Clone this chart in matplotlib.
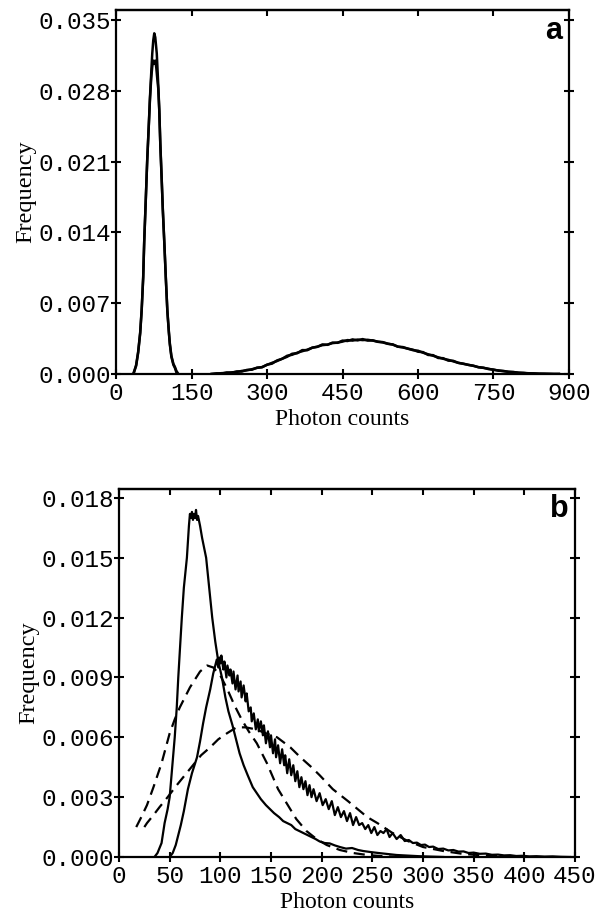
#!/usr/bin/env python3
"""
Photon count histograms (panels a and b) with fitted curves.
"""
import matplotlib
matplotlib.use('Agg')
import matplotlib.pyplot as plt

# panel a: narrow peak, two overlapping histograms
a_narrow1_x = [34, 40, 44, 48, 51, 54, 56, 59, 62, 65, 67.5, 70, 72, 74, 76, 78, 81, 84, 86,
	88, 90.6, 93, 96, 99, 102, 105, 107, 110, 114, 117, 120, 124]
a_narrow1_y = [0, 0.0008, 0.0021, 0.0040, 0.0063, 0.0095, 0.0130, 0.0170, 0.0212, 0.0245,
	0.0274, 0.0298, 0.0317, 0.0330, 0.0337, 0.0333, 0.0317, 0.0285, 0.0261, 0.0228, 0.0195,
	0.0163, 0.0130, 0.0095, 0.0063, 0.0042, 0.0030, 0.0018, 0.0010, 0.0007, 0.0003, 0]
a_narrow2_x = [35, 40, 44, 48, 51, 54, 56, 59, 62, 65, 67.5, 70, 72, 74, 76, 78, 80, 82, 84,
	86, 88, 90.6, 93, 96, 99, 102, 105, 107, 110, 114, 117, 121]
a_narrow2_y = [0, 0.0009, 0.0022, 0.0041, 0.0064, 0.0096, 0.0131, 0.0171, 0.0211, 0.0244,
	0.0272, 0.0293, 0.0304, 0.0310, 0.0307, 0.0310, 0.0303, 0.0292, 0.0282, 0.0260, 0.0227,
	0.0194, 0.0162, 0.0129, 0.0094, 0.0062, 0.0041, 0.0029, 0.0017, 0.0009, 0.0006, 0]

# panel a: broad peak, two overlapping histograms
a_broad_x = [190, 200, 210, 220, 230, 240, 250, 260, 270, 280, 290, 300, 310, 320, 330, 340,
	350, 360, 370, 380, 390, 400, 410, 420, 430, 440, 450, 460, 470, 480, 490, 500, 510, 520,
	530, 540, 550, 560, 570, 580, 590, 600, 610, 620, 630, 640, 650, 660, 670, 680, 690, 700,
	710, 720, 730, 740, 750, 760, 770, 780, 790, 800, 810, 820, 830, 840, 850, 860, 870, 880]
a_broad1_y = [0, 0.00003, 0.00008, 0.0001, 0.00016, 0.0002, 0.0003, 0.00036, 0.00047, 0.0006,
	0.00068, 0.0009, 0.0011, 0.00128, 0.0015, 0.0018, 0.0019, 0.0021, 0.00225, 0.0024, 0.0026,
	0.0027, 0.00285, 0.0029, 0.00305, 0.0031, 0.0032, 0.00335, 0.0033, 0.0034, 0.00335,
	0.00338, 0.0033, 0.0032, 0.00315, 0.0030, 0.0029, 0.0027, 0.00262, 0.0025, 0.00235, 0.0023,
	0.0021, 0.00195, 0.0018, 0.00165, 0.0015, 0.0014, 0.00125, 0.0011, 0.0010, 0.0009, 0.0008,
	0.00068, 0.0006, 0.00052, 0.0004, 0.00035, 0.00027, 0.00022, 0.00018, 0.00013, 0.0001,
	0.00007, 0.00005, 0.00003, 0.00002, 0.00001, 0, 0]
a_broad2_y = [0, 0.00006, 0.00004, 0.00015, 0.00012, 0.00025, 0.00024, 0.0004, 0.00042,
	0.00062, 0.00066, 0.00092, 0.00102, 0.00134, 0.0015, 0.0017, 0.002, 0.00205, 0.00236,
	0.00235, 0.0026, 0.00268, 0.00292, 0.00288, 0.0031, 0.00308, 0.0033, 0.00326, 0.00342,
	0.00332, 0.00345, 0.0033, 0.00333, 0.00318, 0.00312, 0.00298, 0.00292, 0.0027, 0.00266,
	0.0025, 0.0024, 0.0022, 0.00216, 0.00188, 0.00186, 0.00158, 0.00156, 0.00132, 0.0013,
	0.0011, 0.00102, 0.0009, 0.00082, 0.00066, 0.00062, 0.00048, 0.00044, 0.00032, 0.0003,
	0.0002, 0.00019, 0.00011, 0.0001, 0.00005, 0.00005, 0.00002, 0.00002, 0.00001, 0, 0]

# panel b: sharp histogram
b_hist1_x = [35, 38, 42, 45, 48, 50, 52, 55, 57, 58.5, 60, 62, 64, 67, 68, 69, 70, 71, 72, 73,
	74, 75, 76, 77, 78, 80, 82, 84, 86, 88, 90, 92, 95, 98, 101.6, 105, 108, 112, 116, 119,
	123, 127, 132, 136, 140, 145, 149, 153, 158, 162, 166, 170, 174, 178, 182, 186, 190, 194,
	198, 203, 208, 213, 218, 224, 230, 236, 241, 248, 256, 265, 274, 285, 296, 307, 320]
b_hist1_y = [0, 0.0002, 0.0007, 0.0017, 0.0024, 0.0030, 0.0042, 0.0060, 0.0075, 0.0090,
	0.0103, 0.0120, 0.0135, 0.0150, 0.0158, 0.0166, 0.0172, 0.0170, 0.0173, 0.0169, 0.0172,
	0.0170, 0.0174, 0.0169, 0.0171, 0.0166, 0.0160, 0.0155, 0.0150, 0.0140, 0.0130, 0.0120,
	0.0108, 0.0098, 0.0090, 0.0080, 0.0073, 0.0066, 0.0058, 0.0052, 0.0046, 0.0041, 0.0035,
	0.0032, 0.0029, 0.0026, 0.0024, 0.0022, 0.0020, 0.0018, 0.0017, 0.0016, 0.0014, 0.0013,
	0.0012, 0.0011, 0.0010, 0.0009, 0.00078, 0.0007, 0.00068, 0.00058, 0.0005, 0.00042,
	0.00045, 0.00035, 0.0003, 0.00025, 0.0002, 0.00015, 0.0001, 0.00007, 0.00004, 0.00002, 0]

# panel b: noisy histogram
b_hist2_x = [50, 53, 56, 58, 61, 64, 68, 72, 77, 80, 83, 86, 90, 93, 96.5, 98, 99, 100, 101,
	103, 104, 106, 107, 109, 110, 112, 113, 115, 117, 118, 120, 121, 123, 125, 126, 128, 130,
	131, 133, 135, 137, 138, 140, 142, 143, 145, 147, 149, 150, 152, 154, 155, 157, 159, 161,
	163, 164, 166, 168, 170, 172, 174, 176, 178, 180, 182, 184, 186, 188, 190, 192, 195, 198,
	201, 204, 207, 210, 213, 216, 219, 222, 225, 228, 231, 234, 237, 240, 243, 246, 249, 252,
	255, 258, 261, 264, 267, 270, 274, 278, 282, 286, 290, 294, 298, 302, 306, 310, 315, 320,
	325, 330, 335, 340, 345, 350, 356, 362, 368, 374, 380, 386, 392, 398, 405, 412, 420, 428,
	436, 445]
b_hist2_y = [0, 0.0002, 0.0006, 0.0010, 0.0016, 0.0023, 0.0034, 0.0042, 0.0050, 0.0058,
	0.0067, 0.0075, 0.0084, 0.0092, 0.0099, 0.0095, 0.0100, 0.0097, 0.0101, 0.0094, 0.0098,
	0.0090, 0.0096, 0.0091, 0.0094, 0.0087, 0.0093, 0.0084, 0.0091, 0.0083, 0.0088, 0.0080,
	0.0086, 0.0078, 0.0082, 0.0073, 0.0075, 0.0068, 0.0072, 0.0064, 0.0069, 0.0063, 0.0068,
	0.0061, 0.0066, 0.0057, 0.0063, 0.0055, 0.0061, 0.0052, 0.0059, 0.0050, 0.0056, 0.0047,
	0.0054, 0.0046, 0.0051, 0.0042, 0.0049, 0.0041, 0.0046, 0.0038, 0.0043, 0.0035, 0.0040,
	0.0034, 0.0038, 0.0031, 0.0036, 0.0030, 0.0034, 0.0028, 0.0032, 0.0026, 0.0029, 0.0024,
	0.0028, 0.0021, 0.0025, 0.0020, 0.0023, 0.0018, 0.0022, 0.0016, 0.0020, 0.0016, 0.0017,
	0.0014, 0.0016, 0.0012, 0.0015, 0.0011, 0.0013, 0.0012, 0.0014, 0.0010, 0.0012, 0.0009,
	0.0011, 0.0008, 0.00085, 0.0007, 0.00072, 0.0006, 0.00062, 0.0005, 0.00052, 0.0004,
	0.00042, 0.00033, 0.00035, 0.00027, 0.00028, 0.0002, 0.00022, 0.00016, 0.00017, 0.00011,
	0.00012, 0.00008, 0.00009, 0.00005, 0.00006, 0.00003, 0.00004, 0.00002, 0.00003, 0.00001, 0]

# panel b: fitted curves (dashed)
b_fit1_x = [17, 22, 27.6, 34, 42, 50, 55, 60, 65, 70, 75, 80, 87, 93, 100, 107, 114, 121, 128,
	136, 146, 157, 169, 175, 185, 195, 205, 218, 231, 245, 260, 280]
b_fit1_y = [0.0015, 0.0020, 0.0026, 0.0035, 0.0047, 0.0062, 0.0069, 0.0075, 0.0080, 0.0085,
	0.0089, 0.0093, 0.0096, 0.0095, 0.0091, 0.0084, 0.0076, 0.0069, 0.0063, 0.0057, 0.0047,
	0.0034, 0.0024, 0.0019, 0.0013, 0.0009, 0.0006, 0.00035, 0.0002, 0.0001, 0.00004, 0]
b_fit2_x = [25, 27.6, 34, 40, 48, 57, 65, 73, 81, 90, 98, 106.5, 116, 125, 135, 145, 156, 169,
	179, 190, 198, 211, 226, 245, 255, 270, 285, 300, 320, 340, 360, 380, 400]
b_fit2_y = [0.0015, 0.0017, 0.0021, 0.0025, 0.0030, 0.0036, 0.0041, 0.0046, 0.0051, 0.0055,
	0.0059, 0.0062, 0.0065, 0.0065, 0.0064, 0.0062, 0.0060, 0.0055, 0.0050, 0.0045, 0.0041,
	0.0034, 0.0028, 0.0020, 0.0017, 0.0012, 0.0008, 0.0005, 0.0003, 0.00015, 0.00008,
	0.00003, 0]

a_xticks = [0, 150, 300, 450, 600, 750, 900]
a_yticks = [0.000, 0.007, 0.014, 0.021, 0.028, 0.035]
b_xticks = [0, 50, 100, 150, 200, 250, 300, 350, 400, 450]
b_yticks = [0.000, 0.003, 0.006, 0.009, 0.012, 0.015, 0.018]

MONO = 'Liberation Mono'
SERIF = 'Liberation Serif'
DASH = (0, (5, 3))


def style_axes(ax, xticks, yticks, xlim, ylim, letter):
	ax.set_xlim(*xlim)
	ax.set_ylim(*ylim)
	ax.set_xticks(xticks)
	ax.set_yticks(yticks)
	ax.set_xticklabels([str(t) for t in xticks], family=MONO, fontsize=17.5)
	ax.set_yticklabels(['%.3f' % t for t in yticks], family=MONO, fontsize=17.5)
	ax.tick_params(axis='both', direction='inout', length=7, width=1.5, pad=2, right=True)
	ax.tick_params(axis='y', pad=0)
	for s in ax.spines.values():
		s.set_linewidth(1.6)
	top = ax.secondary_xaxis('top')
	top.set_xticks(xticks)
	top.set_xticklabels([])
	top.tick_params(direction='in', length=4, width=1.5)
	top.spines['top'].set_linewidth(1.6)
	ax.set_xlabel('Photon counts', family=SERIF, fontsize=17, labelpad=3)
	ax.set_ylabel('Frequency', family=SERIF, fontsize=17.5, labelpad=2)
	ax.text(0.985, 0.985, letter, transform=ax.transAxes, ha='right', va='top',
		family='Liberation Sans', fontweight='bold', fontsize=22)


def main():
	fig = plt.figure(figsize=(5.98, 9.15), dpi=100)
	ax_a = fig.add_axes([0.194, 0.5913, 0.7575, 0.3977])
	ax_b = fig.add_axes([0.199, 0.0634, 0.7625, 0.4022])

	kw = dict(color='black', lw=1.8)
	ax_a.plot(a_narrow1_x, a_narrow1_y, **kw)
	ax_a.plot(a_narrow2_x, a_narrow2_y, **kw)
	ax_a.plot(a_broad_x, a_broad1_y, **kw)
	ax_a.plot(a_broad_x, a_broad2_y, **kw)
	style_axes(ax_a, a_xticks, a_yticks, (0, 900), (0, 0.036), 'a')

	kw = dict(color='black', lw=1.6)
	ax_b.plot(b_hist1_x, b_hist1_y, **kw)
	ax_b.plot(b_hist2_x, b_hist2_y, **kw)
	ax_b.plot(b_fit1_x, b_fit1_y, ls=DASH, **kw)
	ax_b.plot(b_fit2_x, b_fit2_y, ls=DASH, **kw)
	style_axes(ax_b, b_xticks, b_yticks, (0, 450), (0, 0.01845), 'b')

	fig.savefig('out.png', dpi=100)


if __name__ == '__main__':
	main()
